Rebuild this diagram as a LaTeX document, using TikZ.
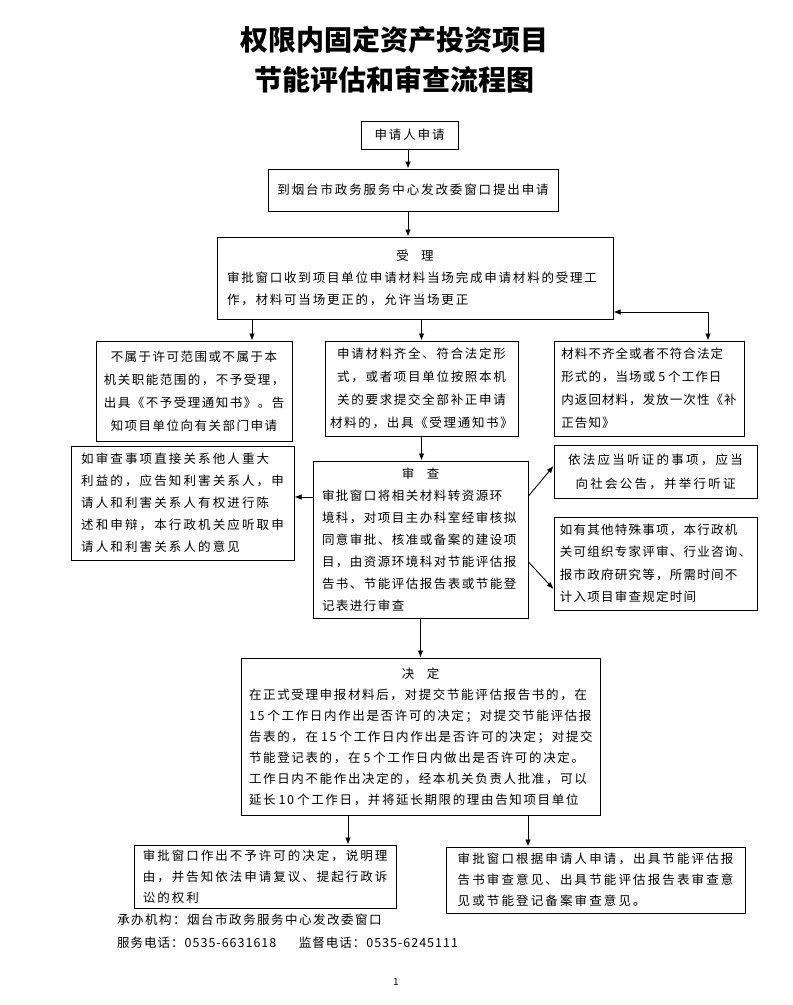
\documentclass[tikz,border=0pt]{standalone}
\usepackage{fontspec}
\setmainfont{Noto Sans CJK SC}
\usetikzlibrary{arrows.meta}
\setlength{\parindent}{0pt}
\newcommand{\LS}[1]{\addfontfeature{LetterSpace=#1}}
\newcommand{\bfs}[3]{\fontsize{#1}{#2}\selectfont\LS{#3}}
\newcommand{\gp}{\hspace{3pt}}
\tikzset{
  box/.style={draw, line width=1pt, inner sep=0pt},
  arr/.style={-{Latex[length=7pt,width=5.5pt]}, line width=0.9pt},
  arrboth/.style={{Latex[length=7pt,width=5.5pt]}-{Latex[length=7pt,width=5.5pt]}, line width=0.9pt},
}
\begin{document}
\begin{tikzpicture}[x=1pt,y=-1pt]
\useasboundingbox[fill=white] (0,0) rectangle (793,1005);

% title
\node[font={\fontsize{28}{40}\selectfont\bfseries}, align=center] (title) at (394,60)
  {权限内固定资产投资项目\\节能评估和审查流程图};

% boxes
\node[box, minimum width=97pt, minimum height=28pt, font={\bfs{12.5}{22}{15}}] (n1) at (409.5,135) {申请人申请};

\node[box, minimum width=290pt, minimum height=42pt, font={\bfs{12.5}{22}{15}}] (n2) at (413,190)
  {到烟台市政务服务中心发改委窗口提出申请};

\node[box, minimum width=396pt, minimum height=82pt, text width=376pt, align=left, font={\bfs{12.5}{22}{14.4}}] (shouli) at (415,278)
  {\makebox[\hsize][c]{受\hspace{1em}理}\\
   审批窗口收到项目单位申请材料当场完成申请材料的受理工\\
   作，材料可当场更正的，允许当场更正};

\node[box, minimum width=196pt, minimum height=100pt, align=center, font={\bfs{12.5}{23}{12}}] (lbox) at (194,391)
  {不属于许可范围或不属于本\\机关职能范围的，不予受理，\\出具《不予受理通知书》。告\\知项目单位向有关部门申请};

\node[box, minimum width=193pt, minimum height=95pt, align=center, font={\bfs{12.5}{23}{13.6}}] (mbox) at (421.5,388.5)
  {申请材料齐全、符合法定形\\式，或者项目单位按照本机\\关的要求提交全部补正申请\\材料的，出具《受理通知书》};

\node[box, minimum width=190pt, minimum height=95pt, align=left, font={\bfs{12.5}{23}{8.5}}] (rbox) at (649,388.5)
  {材料不齐全或者不符合法定\\形式的，当场或\gp 5\gp 个工作日\\内返回材料，发放一次性《补\\正告知》};

\node[box, minimum width=223pt, minimum height=114pt, align=left, font={\bfs{12.5}{22}{17}}] (lmid) at (182.5,503)
  {如审查事项直接关系他人重大\\利益的，应告知利害关系人，申\\请人和利害关系人有权进行陈\\述和申辩，本行政机关应听取申\\请人和利害关系人的意见};

\node[box, minimum width=215pt, minimum height=157pt, text width=197pt, align=left, font={\bfs{12.5}{22}{12}}] (shencha) at (420.5,539.5)
  {\makebox[\hsize][c]{审\hspace{1em}查}\\
   审批窗口将相关材料转资源环\\
   境科，对项目主办科室经审核拟\\
   同意审批、核准或备案的建设项\\
   目，由资源环境科对节能评估报\\
   告书、节能评估报告表或节能登\\
   记表进行审查};

\node[box, minimum width=203pt, minimum height=53pt, align=center, font={\bfs{12.5}{24}{18}}] (rtop) at (655.5,471.5)
  {依法应当听证的事项，应当\\向社会公告，并举行听证};

\node[box, minimum width=203pt, minimum height=93pt, align=left, font={\bfs{12.5}{22.5}{10}}] (rbot) at (655.5,563.5)
  {如有其他特殊事项，本行政机\\关可组织专家评审、行业咨询、\\报市政府研究等，所需时间不\\计入项目审查规定时间};

\node[box, minimum width=359pt, minimum height=157pt, text width=343pt, align=left, font={\bfs{12.5}{21}{13.2}}] (jueding) at (420.5,736.5)
  {\makebox[\hsize][c]{决\hspace{1em}定}\\
   在正式受理申报材料后，对提交节能评估报告书的，在\\
   15\gp 个工作日内作出是否许可的决定；对提交节能评估报\\
   告表的，在\gp 15\gp 个工作日内作出是否许可的决定；对提交\\
   节能登记表的，在\gp 5\gp 个工作日内做出是否许可的决定。\\
   工作日内不能作出决定的，经本机关负责人批准，可以\\
   延长\gp 10\gp 个工作日，并将延长期限的理由告知项目单位};

\node[box, minimum width=262pt, minimum height=63pt, align=left, font={\bfs{12.5}{21}{16}}] (bl) at (265,876.5)
  {审批窗口作出不予许可的决定，说明理\\由，并告知依法申请复议、提起行政诉\\讼的权利};

\node[box, minimum width=299pt, minimum height=66pt, align=left, font={\bfs{12.5}{21}{17}}] (br) at (595.5,880)
  {审批窗口根据申请人申请，出具节能评估报\\告书审查意见、出具节能评估报告表审查意\\见或节能登记备案审查意见。};

% footer
\node[anchor=west, inner sep=0pt, font={\bfs{12.5}{22}{12}}] (f1) at (117,920) {承办机构：烟台市政务服务中心发改委窗口};
\node[anchor=west, inner sep=0pt, font={\bfs{12.5}{22}{8}}] (f2) at (117,943) {服务电话：0535-6631618\hspace{1.8em}监督电话：0535-6245111};
\node[inner sep=0pt, font={\fontsize{10}{12}\selectfont}] (pg) at (396,982) {1};

% connectors
\coordinate (c1) at (408,0);
\coordinate (c2) at (252,0);
\coordinate (r1) at (708,312);
\coordinate (h1) at (0,497);
\coordinate (d1) at (0,496);
\coordinate (d2) at (0,466);
\coordinate (d3) at (0,562);
\coordinate (d4) at (0,589);
\coordinate (c3) at (348,0);
\coordinate (c4) at (528,0);

\draw[arr] (c1 |- n1.south) -- (c1 |- n2.north);
\draw[arr] (c1 |- n2.south) -- (c1 |- shouli.north);
\draw[arr] (c2 |- shouli.south) -- (c2 |- lbox.north);
\draw[arr] (mbox.north |- shouli.south) -- (mbox.north);
\draw[arrboth] (shouli.east |- r1) -- (r1) -- (r1 |- rbox.north);
\draw[arr] (mbox.south) -- (mbox.south |- shencha.north);
\draw[arr] (shencha.west |- h1) -- (lmid.east |- h1);
\draw[arr] (shencha.east |- d1) -- (rtop.west |- d2);
\draw[arr] (shencha.east |- d3) -- (rbot.west |- d4);
\draw[arr] (shencha.south) -- (shencha.south |- jueding.north);
\draw[arr] (c3 |- jueding.south) -- (c3 |- bl.north);
\draw[arr] (c4 |- jueding.south) -- (c4 |- br.north);
\end{tikzpicture}
\end{document}
